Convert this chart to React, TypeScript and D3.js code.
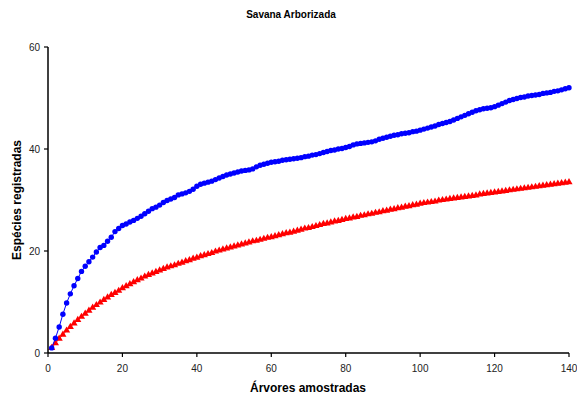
import React from "react";
import * as d3 from "d3";

// Species accumulation: observed (blue) and expected (red) per tree sampled
const observedSpecies = [
  1.0, 2.9, 5.1, 7.6, 9.8, 11.6, 13.2, 14.6, 16.0, 17.0,
  17.9, 18.8, 19.8, 20.7, 21.1, 21.9, 22.7, 23.8, 24.4, 25.0,
  25.3, 25.7, 26.0, 26.4, 26.8, 27.3, 27.8, 28.3, 28.6, 29.0,
  29.5, 29.9, 30.2, 30.5, 31.0, 31.2, 31.4, 31.7, 32.1, 32.7,
  33.1, 33.3, 33.5, 33.7, 34.0, 34.3, 34.6, 34.9, 35.1, 35.3,
  35.5, 35.7, 35.8, 35.9, 36.1, 36.5, 36.8, 37.0, 37.2, 37.4,
  37.5, 37.6, 37.8, 37.9, 38.0, 38.1, 38.2, 38.3, 38.5, 38.6,
  38.8, 38.9, 39.1, 39.3, 39.5, 39.7, 39.8, 40.0, 40.1, 40.3,
  40.5, 40.8, 41.0, 41.1, 41.2, 41.3, 41.4, 41.6, 41.9, 42.1,
  42.3, 42.5, 42.7, 42.8, 43.0, 43.1, 43.2, 43.4, 43.5, 43.7,
  43.9, 44.1, 44.3, 44.5, 44.8, 45.0, 45.2, 45.4, 45.7, 46.0,
  46.3, 46.6, 46.9, 47.2, 47.5, 47.7, 47.9, 48.0, 48.1, 48.3,
  48.6, 48.9, 49.2, 49.5, 49.7, 49.9, 50.1, 50.2, 50.4, 50.5,
  50.6, 50.7, 50.9, 51.0, 51.1, 51.3, 51.4, 51.6, 51.8, 52.0,
];

const expectedSpecies = [
  1.0, 1.9, 2.8, 3.6, 4.4, 5.1, 5.8, 6.5, 7.1, 7.7,
  8.3, 8.9, 9.4, 9.9, 10.4, 10.9, 11.4, 11.8, 12.2, 12.7,
  13.1, 13.5, 13.9, 14.3, 14.6, 15.0, 15.3, 15.6, 15.9, 16.2,
  16.5, 16.8, 17.0, 17.2, 17.5, 17.7, 18.0, 18.2, 18.5, 18.7,
  19.0, 19.2, 19.4, 19.6, 19.9, 20.1, 20.3, 20.5, 20.7, 20.9,
  21.1, 21.3, 21.5, 21.7, 21.9, 22.0, 22.2, 22.4, 22.6, 22.7,
  22.9, 23.1, 23.3, 23.5, 23.6, 23.8, 24.0, 24.2, 24.4, 24.5,
  24.7, 24.9, 25.1, 25.3, 25.4, 25.6, 25.8, 25.9, 26.1, 26.3,
  26.4, 26.6, 26.7, 26.9, 27.0, 27.2, 27.3, 27.5, 27.6, 27.8,
  27.9, 28.1, 28.2, 28.4, 28.5, 28.7, 28.8, 29.0, 29.1, 29.3,
  29.4, 29.5, 29.6, 29.7, 29.9, 30.0, 30.1, 30.2, 30.3, 30.4,
  30.5, 30.6, 30.7, 30.8, 30.9, 31.1, 31.2, 31.3, 31.4, 31.5,
  31.6, 31.7, 31.8, 31.9, 32.0, 32.1, 32.2, 32.3, 32.4, 32.5,
  32.6, 32.7, 32.8, 32.9, 33.0, 33.1, 33.2, 33.3, 33.4, 33.5,
];

const xTicks = [0, 20, 40, 60, 80, 100, 120, 140];
const yTicks = [0, 20, 40, 60];

const W = 577;
const H = 399;
const margin = { left: 48, right: 8, top: 47, bottom: 46 };

export default function App() {
  const x = d3.scaleLinear().domain([0, 140]).range([margin.left, W - margin.right]);
  const y = d3.scaleLinear().domain([0, 60]).range([H - margin.bottom, margin.top]);

  const obs = observedSpecies.map((v, i) => [i + 1, v] as [number, number]);
  const exp = expectedSpecies.map((v, i) => [i + 1, v] as [number, number]);

  const line = d3
    .line<[number, number]>()
    .x((d) => x(d[0]))
    .y((d) => y(d[1]));

  const tri = d3.symbol().type(d3.symbolTriangle).size(22)();

  const font = "Liberation Sans, Arial, sans-serif";
  const x0 = x(0);
  const y0 = y(0);

  return (
    <svg
      width={W}
      height={H}
      style={{ position: "absolute", left: 0, top: 0, background: "#fff" }}
      fontFamily={font}
    >
      <text x={291} y={18} textAnchor="middle" fontSize={10} fontWeight="bold" fill="#000">
        Savana Arborizada
      </text>

      {/* expected series */}
      <path d={line(exp) || ""} fill="none" stroke="#ff0000" strokeWidth={1} />
      {exp.map((d, i) => (
        <path key={"t" + i} d={tri || ""} transform={`translate(${x(d[0])},${y(d[1])})`} fill="#ff0000" />
      ))}

      {/* observed series */}
      <path d={line(obs) || ""} fill="none" stroke="#0000ff" strokeWidth={1} />
      {obs.map((d, i) => (
        <circle key={"c" + i} cx={x(d[0])} cy={y(d[1])} r={2.7} fill="#0000ff" />
      ))}

      {/* axes */}
      <line x1={x0} x2={x0} y1={y(60)} y2={y0} stroke="#000" strokeWidth={1.5} />
      <line x1={x0} x2={x(140)} y1={y0} y2={y0} stroke="#000" strokeWidth={1.5} />
      {yTicks.map((t) => (
        <g key={"y" + t}>
          <line x1={x0 - 4} x2={x0} y1={y(t)} y2={y(t)} stroke="#000" strokeWidth={1.2} />
          <text x={x0 - 8} y={y(t) + 3.5} textAnchor="end" fontSize={10} fill="#222">
            {t}
          </text>
        </g>
      ))}
      {xTicks.map((t) => (
        <g key={"x" + t}>
          <line x1={x(t)} x2={x(t)} y1={y0} y2={y0 + 4} stroke="#000" strokeWidth={1.2} />
          <text x={x(t)} y={y0 + 19} textAnchor="middle" fontSize={10} fill="#222">
            {t}
          </text>
        </g>
      ))}

      <text x={308} y={392} textAnchor="middle" fontSize={12} fontWeight="bold" fill="#000">
        Árvores amostradas
      </text>
      <text
        transform={`translate(21,200) rotate(-90)`}
        textAnchor="middle"
        fontSize={12}
        fontWeight="bold"
        fill="#000"
      >
        Espécies registradas
      </text>
    </svg>
  );
}
